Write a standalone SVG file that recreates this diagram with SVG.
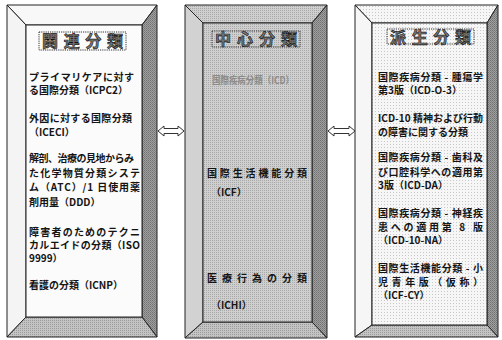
<svg xmlns="http://www.w3.org/2000/svg" width="502" height="340" viewBox="0 0 502 340">
<defs>
<pattern id="dk" width="2" height="2" patternUnits="userSpaceOnUse"><rect width="2" height="2" fill="#a0a0a0"/><rect width="1" height="1" fill="#707070"/><rect x="1" y="1" width="1" height="1" fill="#808080"/></pattern>
<pattern id="md" width="2" height="2" patternUnits="userSpaceOnUse"><rect width="2" height="2" fill="#cfcfcf"/><rect width="1" height="1" fill="#a8a8a8"/></pattern>
<pattern id="lt" width="3" height="3" patternUnits="userSpaceOnUse"><rect width="3" height="3" fill="#f6f6f6"/><rect width="1" height="1" fill="#c8c8c8"/></pattern>
<pattern id="bt" width="2" height="2" patternUnits="userSpaceOnUse"><rect width="2" height="2" fill="#c4c4c4"/><rect width="1" height="1" fill="#9a9a9a"/></pattern>
</defs>
<style>
.edge{stroke:#222;stroke-width:1;stroke-linejoin:miter}
.t{font-family:"Noto Sans CJK JP","Noto Sans CJK SC",sans-serif;font-weight:bold;font-size:10px;fill:#141414}
.ttl{font-family:"Noto Sans CJK JP","Noto Sans CJK SC",sans-serif;font-weight:bold;font-size:16px;fill:#7a7a7a;stroke:#111;stroke-width:0.6}
.tbox{fill:none;stroke:#333;stroke-width:1;stroke-dasharray:1.2 1}
.arrow{fill:#fff;stroke:#333;stroke-width:1}
</style>
<rect width="502" height="340" fill="#ffffff"/>

<g id="node-related">
<polygon class="edge" points="7,5 157,5 142,25 26,25" fill="#f8f8f8"/>
<polygon class="edge" points="7,5 26,25 26,317 7,337" fill="#f4f4f4"/>
<polygon class="edge" points="157,5 157,337 142,317 142,25" fill="url(#dk)"/>
<polygon class="edge" points="7,337 26,317 142,317 157,337" fill="url(#bt)"/>
<rect class="edge" x="26" y="25" width="116" height="292" fill="#fbfbfb"/>
<rect class="tbox" x="39" y="32" width="87" height="18"/>
<text class="ttl" x="42" y="47" textLength="81" lengthAdjust="spacing">関連分類</text>
<text class="t" x="29" y="81" textLength="105" lengthAdjust="spacing">プライマリケアに対す</text>
<text class="t" x="29" y="94">る国際分類（ICPC2）</text>
<text class="t" x="29" y="122" textLength="103" lengthAdjust="spacing">外因に対する国際分類</text>
<text class="t" x="29" y="136">（ICECI）</text>
<text class="t" x="29" y="162" textLength="105" lengthAdjust="spacing">解剖、治療の見地からみ</text>
<text class="t" x="29" y="176.5" textLength="111" lengthAdjust="spacing">た化学物質分類システ</text>
<text class="t" x="29" y="191" textLength="111" lengthAdjust="spacing">ム（ATC）/1 日使用薬</text>
<text class="t" x="29" y="206">剤用量（DDD）</text>
<text class="t" x="29" y="236" textLength="111" lengthAdjust="spacing">障害者のためのテクニ</text>
<text class="t" x="29" y="249" textLength="111" lengthAdjust="spacing">カルエイドの分類（ISO</text>
<text class="t" x="29" y="262">9999）</text>
<text class="t" x="29" y="289">看護の分類（ICNP）</text>
</g>

<g id="node-core">
<polygon class="edge" points="185,5 327,5 312,23 203,23" fill="url(#md)"/>
<polygon class="edge" points="185,5 203,23 203,322 185,338" fill="#d2d2d2"/>
<polygon class="edge" points="327,5 327,338 312,322 312,23" fill="url(#dk)"/>
<polygon class="edge" points="185,338 203,322 312,322 327,338" fill="url(#bt)"/>
<rect class="edge" x="203" y="23" width="109" height="299" fill="url(#md)"/>
<rect class="tbox" x="212" y="31" width="88" height="16"/>
<text class="ttl" x="215" y="45" textLength="82" lengthAdjust="spacing">中心分類</text>
<text class="t" x="212" y="84" style="fill:#8a8a8a" textLength="82" lengthAdjust="spacingAndGlyphs">国際疾病分類（ICD）</text>
<text class="t" x="207" y="177" textLength="100" lengthAdjust="spacing">国際生活機能分類</text>
<text class="t" x="211" y="196">（ICF）</text>
<text class="t" x="207" y="282" textLength="100" lengthAdjust="spacing">医療行為の分類</text>
<text class="t" x="211" y="309">（ICHI）</text>
</g>

<g id="node-derived">
<polygon class="edge" points="355,5 498,5 487,23 372,23" fill="url(#lt)"/>
<polygon class="edge" points="355,5 372,23 372,325 355,337" fill="#f6f6f6"/>
<polygon class="edge" points="498,5 498,337 487,325 487,23" fill="url(#dk)"/>
<polygon class="edge" points="355,337 372,325 487,325 498,337" fill="url(#bt)"/>
<rect class="edge" x="372" y="23" width="115" height="302" fill="url(#lt)"/>
<rect class="tbox" x="387" y="29" width="87" height="15"/>
<text class="ttl" x="390" y="43" textLength="81" lengthAdjust="spacing">派生分類</text>
<text class="t" x="378" y="81" textLength="105" lengthAdjust="spacing">国際疾病分類 - 腫瘍学</text>
<text class="t" x="378" y="94">第3版（ICD-O-3）</text>
<text class="t" x="378" y="122" textLength="105" lengthAdjust="spacing">ICD-10 精神および行動</text>
<text class="t" x="378" y="136">の障害に関する分類</text>
<text class="t" x="378" y="161" textLength="105" lengthAdjust="spacing">国際疾病分類 - 歯科及</text>
<text class="t" x="378" y="176" textLength="105" lengthAdjust="spacing">び口腔科学への適用第</text>
<text class="t" x="378" y="189">3版（ICD-DA）</text>
<text class="t" x="378" y="217" textLength="105" lengthAdjust="spacing">国際疾病分類 - 神経疾</text>
<text class="t" x="378" y="231" textLength="105" lengthAdjust="spacing">患への適用第 8 版</text>
<text class="t" x="378" y="244">（ICD-10-NA）</text>
<text class="t" x="378" y="272" textLength="105" lengthAdjust="spacing">国際生活機能分類 - 小</text>
<text class="t" x="378" y="286" textLength="105" lengthAdjust="spacing">児 青 年 版 （ 仮 称 ）</text>
<text class="t" x="378" y="299">（ICF-CY）</text>
</g>

<g id="connectors">
<polygon class="arrow" points="158,131 164,126 164,128.5 178,128.5 178,126 184,131 178,136 178,133.5 164,133.5 164,136"/>
<polygon class="arrow" points="328,131 334,126 334,128.5 349,128.5 349,126 355,131 349,136 349,133.5 334,133.5 334,136"/>
</g>
</svg>
